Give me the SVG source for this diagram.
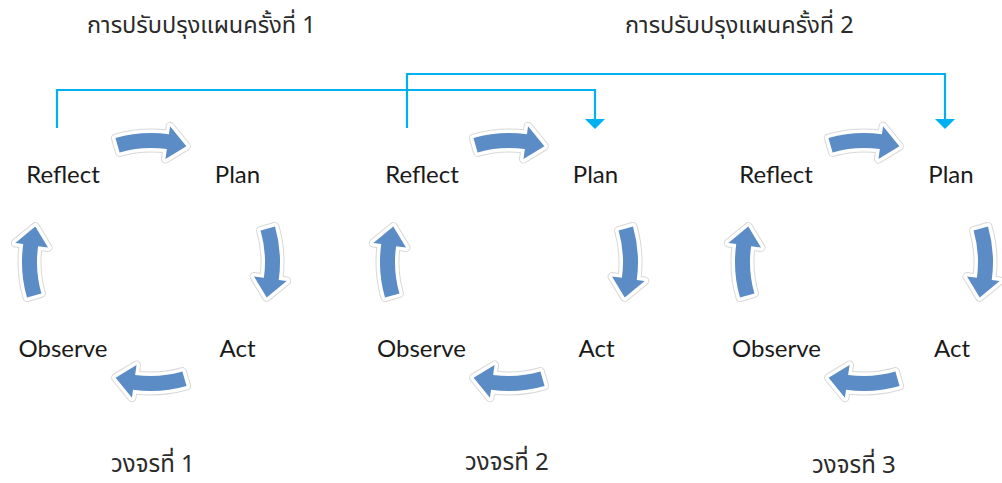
<svg xmlns="http://www.w3.org/2000/svg" xmlns:xlink="http://www.w3.org/1999/xlink" width="1002" height="483" viewBox="0 0 1002 483">
<style>
.lbl{font-family:Lato,"Open Sans","Liberation Sans",sans-serif;font-size:24px;fill:#1a1a1a;text-anchor:middle}
.th{font-family:"Noto Sans Thai","Noto Sans","Liberation Sans",sans-serif;font-size:23.5px;fill:#2b2b2b}
.thb{font-family:"Noto Sans Thai","Noto Sans","Liberation Sans",sans-serif;font-size:24px;fill:#2b2b2b}
.conn{fill:none;stroke:#00B0F0;stroke-width:2.2}
.head{fill:#00B0F0}
.halo{fill:none;stroke:#d8d8d8;stroke-width:9;stroke-linejoin:round}
.halo2{fill:none;stroke:#ffffff;stroke-width:7;stroke-linejoin:round}
.body{fill:#5B8CC6}
</style>
<defs>
<path id="arr" d="M -35.56,-124.0 A 129 129 0 0 1 17.95,-127.75 L 19.07,-135.67 L 35.38,-115.71 L 14.47,-102.99 L 15.87,-112.89 A 114 114 0 0 0 -31.42,-109.58 Z"/>
<g id="carrow">
<use xlink:href="#arr" class="halo"/>
<use xlink:href="#arr" class="halo2"/>
<use xlink:href="#arr" class="body"/>
</g>
<g id="cycle">
<use xlink:href="#carrow"/>
<use xlink:href="#carrow" transform="rotate(90)"/>
<use xlink:href="#carrow" transform="rotate(180)"/>
<use xlink:href="#carrow" transform="rotate(270)"/>
</g>
</defs>
<rect width="1002" height="483" fill="#ffffff"/>
<g id="connectors">
<polyline class="conn" points="57,128 57,90 595,90 595,120"/>
<polygon class="head" points="585,119 605,119 595,129"/>
<polyline class="conn" points="407,128 407,74 945,74 945,120"/>
<polygon class="head" points="935,119 955,119 945,129"/>
</g>
<g id="cycle1">
<use xlink:href="#cycle" transform="translate(151,262)"/>
<text class="lbl" x="63" y="183">Reflect</text>
<text class="lbl" x="237.5" y="183">Plan</text>
<text class="lbl" x="237.5" y="357">Act</text>
<text class="lbl" x="63" y="357">Observe</text>
</g>
<g id="cycle2">
<use xlink:href="#cycle" transform="translate(509,262)"/>
<text class="lbl" x="422" y="183">Reflect</text>
<text class="lbl" x="595.5" y="183">Plan</text>
<text class="lbl" x="596.5" y="357">Act</text>
<text class="lbl" x="421.5" y="357">Observe</text>
</g>
<g id="cycle3">
<use xlink:href="#cycle" transform="translate(864,262)"/>
<text class="lbl" x="776" y="183">Reflect</text>
<text class="lbl" x="951" y="183">Plan</text>
<text class="lbl" x="952" y="357">Act</text>
<text class="lbl" x="776.5" y="357">Observe</text>
</g>
<g id="titles">
<text class="th" x="87" y="33">การปรับปรุงแผนครั้งที่  1</text>
<text class="th" x="625" y="33">การปรับปรุงแผนครั้งที่  2</text>
<text class="thb" x="111" y="472">วงจรที่  1</text>
<text class="thb" x="465" y="470">วงจรที่  2</text>
<text class="thb" x="812" y="473">วงจรที่  3</text>
</g>
</svg>
